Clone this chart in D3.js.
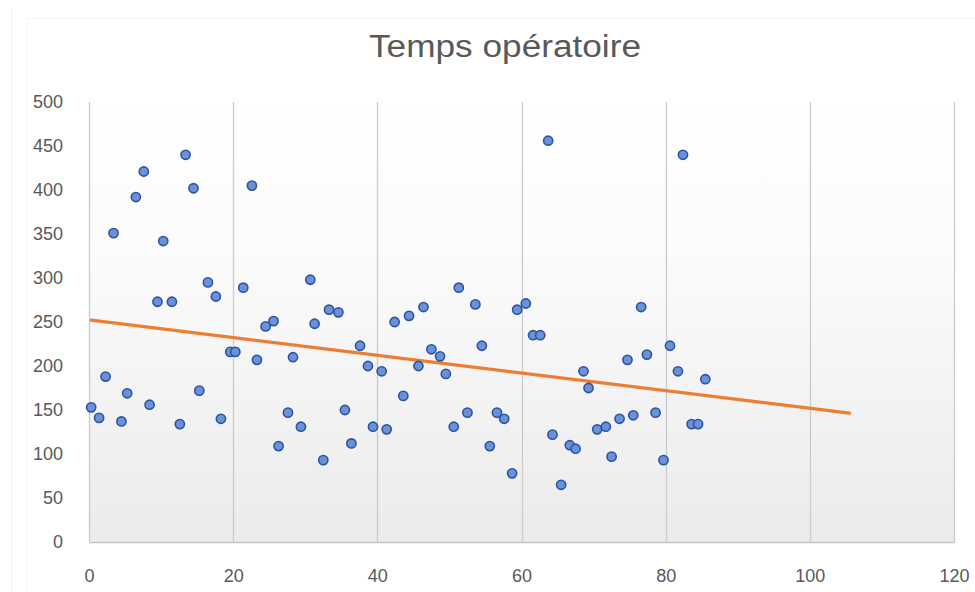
<!DOCTYPE html>
<html>
<head>
<meta charset="utf-8">
<script src="https://cdn.jsdelivr.net/npm/d3@7"></script>
<style>
  html, body { margin: 0; padding: 0; background: #fff; }
  svg { display: block; }
</style>
</head>
<body>
<svg id="chart" width="975" height="592"></svg>
<script>
// Operating time per case
const title = "Temps opératoire";
const caseIndex = [
  0.3, 1.4, 2.3, 3.4, 4.5, 5.3, 6.5, 7.6, 8.4, 9.5,
  10.3, 11.5, 12.6, 13.4, 14.5, 15.3, 16.5, 17.6, 18.3, 19.6,
  20.3, 21.4, 22.6, 23.3, 24.5, 25.6, 26.3, 27.6, 28.3, 29.4,
  30.7, 31.3, 32.5, 33.3, 34.6, 35.5, 36.4, 37.6, 38.7, 39.4,
  40.6, 41.3, 42.4, 43.6, 44.4, 45.7, 46.4, 47.5, 48.7, 49.5,
  50.6, 51.3, 52.5, 53.6, 54.5, 55.6, 56.6, 57.6, 58.7, 59.4,
  60.6, 61.6, 62.6, 63.7, 64.3, 65.5, 66.7, 67.5, 68.6, 69.3,
  70.5, 71.7, 72.5, 73.6, 74.7, 75.5, 76.6, 77.4, 78.6, 79.7,
  80.6, 81.7, 82.4, 83.6, 84.5, 85.5
];
const durationMinutes = [
  153, 141, 188, 351, 137, 169, 392, 421, 156, 273,
  342, 273, 134, 440, 402, 172, 295, 279, 140, 216,
  216, 289, 405, 207, 245, 251, 109, 147, 210, 131,
  298, 248, 93, 264, 261, 150, 112, 223, 200, 131,
  194, 128, 250, 166, 257, 200, 267, 219, 211, 191,
  131, 289, 147, 270, 223, 109, 147, 140, 78, 264,
  271, 235, 235, 456, 122, 65, 110, 106, 194, 175,
  128, 131, 97, 140, 207, 144, 267, 213, 147, 93,
  223, 194, 440, 134, 134, 185
];
const xTicks = [0, 20, 40, 60, 80, 100, 120];
const yTicks = [0, 50, 100, 150, 200, 250, 300, 350, 400, 450, 500];
const trendForward = 20; // trendline extended 20 units past the last case

const points = caseIndex.map((x, i) => ({ x, y: durationMinutes[i] }));

const svg = d3.select("#chart");
const W = 975, H = 592;
const plot = { left: 89, right: 954, top: 102, bottom: 542 };

const x = d3.scaleLinear().domain([0, 120]).range([plot.left, plot.right]);
const y = d3.scaleLinear().domain([0, 500]).range([plot.bottom, plot.top]);

// faint chart-area frame
svg.append("line")
  .attr("x1", 11.5).attr("x2", 11.5).attr("y1", 8).attr("y2", H)
  .attr("stroke", "#f2f2f2").attr("stroke-width", 1);
svg.append("rect")
  .attr("x", 27.5).attr("y", 18.5).attr("width", W).attr("height", H)
  .attr("fill", "none").attr("stroke", "#f4f4f4").attr("stroke-width", 1);

// plot-area gradient fill
const defs = svg.append("defs");
const grad = defs.append("linearGradient")
  .attr("id", "plotFill").attr("x1", 0).attr("y1", 0).attr("x2", 0).attr("y2", 1);
grad.append("stop").attr("offset", "0%").attr("stop-color", "#ffffff");
grad.append("stop").attr("offset", "35%").attr("stop-color", "#fbfbfb");
grad.append("stop").attr("offset", "100%").attr("stop-color", "#ebebeb");

svg.append("rect")
  .attr("x", plot.left).attr("y", plot.top)
  .attr("width", plot.right - plot.left).attr("height", plot.bottom - plot.top)
  .attr("fill", "url(#plotFill)");

// vertical gridlines
svg.append("g")
  .selectAll("line")
  .data(xTicks)
  .join("line")
  .attr("x1", d => Math.round(x(d)) + 0.5)
  .attr("x2", d => Math.round(x(d)) + 0.5)
  .attr("y1", plot.top)
  .attr("y2", plot.bottom)
  .attr("stroke", "#cbcbcb")
  .attr("stroke-width", 1.3);

// bottom axis
const xAxis = d3.axisBottom(x).tickValues(xTicks).tickSize(0).tickPadding(27);
const gx = svg.append("g")
  .attr("transform", `translate(0,${plot.bottom})`)
  .call(xAxis);
gx.select(".domain").attr("stroke", "#c4c4c4").attr("stroke-width", 1.5);
gx.selectAll("text")
  .attr("font-family", "'Liberation Sans', Arial, sans-serif")
  .attr("font-size", 18)
  .attr("fill", "#595959");

// left axis labels
const yAxis = d3.axisLeft(y).tickValues(yTicks).tickSize(0).tickPadding(26);
const gy = svg.append("g")
  .attr("transform", `translate(${plot.left},0)`)
  .call(yAxis);
gy.select(".domain").remove();
gy.selectAll("text")
  .attr("font-family", "'Liberation Sans', Arial, sans-serif")
  .attr("font-size", 18)
  .attr("fill", "#595959");

// least-squares trendline
const mx = d3.mean(points, d => d.x);
const my = d3.mean(points, d => d.y);
const sxy = d3.sum(points, d => (d.x - mx) * (d.y - my));
const sxx = d3.sum(points, d => (d.x - mx) ** 2);
const slope = sxy / sxx;
const intercept = my - slope * mx;
const x0 = d3.min(caseIndex);
const x1 = d3.max(caseIndex) + trendForward;
const trend = [x0, x1].map(v => ({ x: v, y: intercept + slope * v }));

svg.append("path")
  .datum(trend)
  .attr("d", d3.line().x(d => x(d.x)).y(d => y(d.y)))
  .attr("fill", "none")
  .attr("stroke", "#ED7D31")
  .attr("stroke-width", 3.2)
  .attr("stroke-linecap", "round");

// scatter points
svg.append("g")
  .selectAll("circle")
  .data(points)
  .join("circle")
  .attr("cx", d => x(d.x))
  .attr("cy", d => y(d.y))
  .attr("r", 4.6)
  .attr("fill", "#6a92d8")
  .attr("stroke", "#2e53a1")
  .attr("stroke-width", 1.6);

// title
svg.append("text")
  .attr("x", 505)
  .attr("y", 57)
  .attr("text-anchor", "middle")
  .attr("font-family", "'Liberation Sans', Arial, sans-serif")
  .attr("font-size", 31)
  .attr("fill", "#595959")
  .attr("textLength", 272)
  .attr("lengthAdjust", "spacingAndGlyphs")
  .text(title);
</script>
</body>
</html>
